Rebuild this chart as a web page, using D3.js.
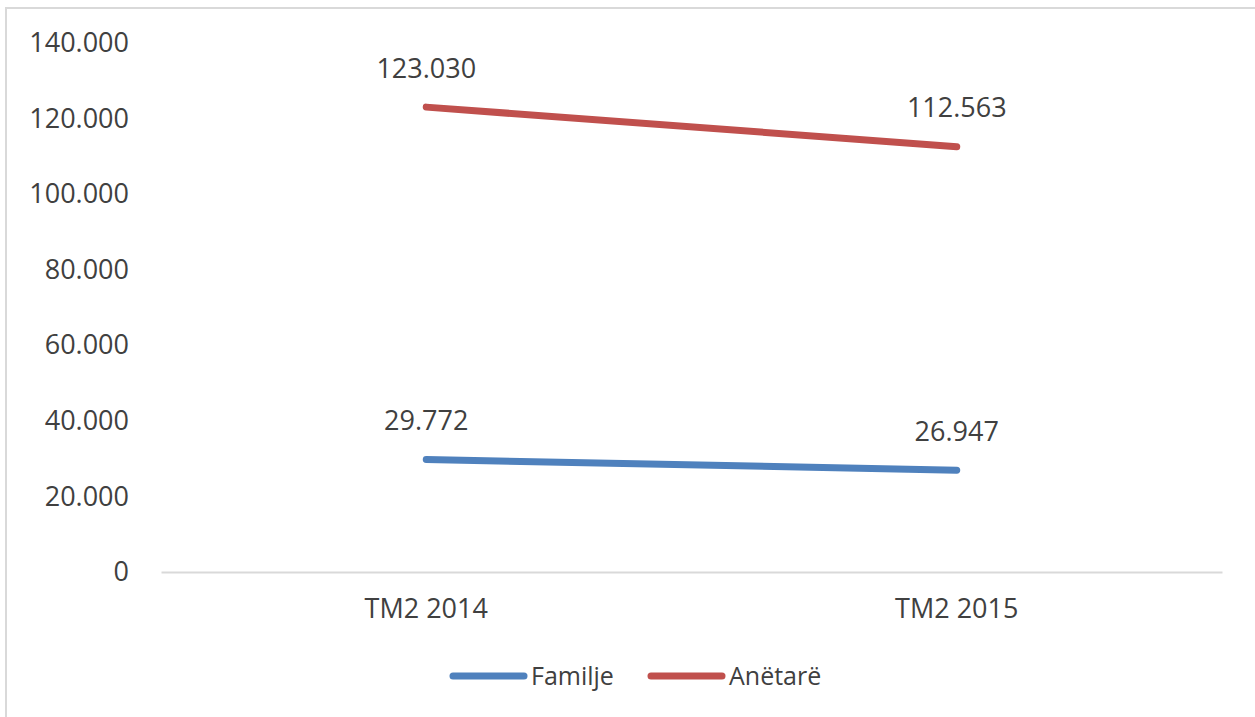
<!DOCTYPE html>
<html>
<head>
<meta charset="utf-8">
<script src="https://cdn.jsdelivr.net/npm/d3@7"></script>
<style>
  body { margin: 0; background: #fff; }
  text { font-family: "Open Sans", "Noto Sans", sans-serif; fill: #404040; }
</style>
</head>
<body>
<svg id="chart" width="1255" height="717"></svg>
<script>
// chart data
var categories = ["TM2 2014", "TM2 2015"];
var familje = [29772, 26947];
var anetare = [123030, 112563];
var seriesNames = ["Familje", "Anëtarë"];
var seriesColors = ["#4f81bd", "#c0504d"];
var yTicks = [0, 20000, 40000, 60000, 80000, 100000, 120000, 140000];

var svg = d3.select("#chart");

// frame around the chart
svg.append("rect")
    .attr("x", 6).attr("y", 8)
    .attr("width", 1260).attr("height", 720)
    .attr("fill", "none")
    .attr("stroke", "#d9d9d9")
    .attr("stroke-width", 2);

var locale = d3.formatLocale({ decimal: ",", thousands: ".", grouping: [3], currency: ["", ""] });
var fmt = locale.format(",d");

var x = d3.scaleBand().domain(categories).range([161, 1222]);
var y = d3.scaleLinear().domain([0, 140000]).range([572, 43]);

// y axis labels (no gridlines)
var yAxis = svg.append("g").attr("transform", "translate(129,0)")
    .call(d3.axisLeft(y).tickValues(yTicks).tickFormat(fmt).tickSize(0).tickPadding(0));
yAxis.select(".domain").remove();
yAxis.selectAll("text").style("font-size", "27px").attr("fill", "#404040")
    .style("font-family", "'Open Sans', sans-serif");

// x axis
var xAxis = svg.append("g").attr("transform", "translate(0,572)")
    .call(d3.axisBottom(x).tickSize(0).tickPadding(27));
xAxis.select(".domain").attr("stroke", "#d9d9d9").attr("stroke-width", 2);
xAxis.selectAll("text").style("font-size", "27px").attr("fill", "#404040")
    .style("font-family", "'Open Sans', sans-serif");

var line = d3.line()
    .x(function(d, i) { return x(categories[i]) + x.bandwidth() / 2; })
    .y(function(d) { return y(d); });

[familje, anetare].forEach(function(vals, s) {
    svg.append("path")
        .datum(vals)
        .attr("d", line)
        .attr("fill", "none")
        .attr("stroke", seriesColors[s])
        .attr("stroke-width", 7)
        .attr("stroke-linecap", "round");

    svg.selectAll(".lbl" + s)
        .data(vals)
        .enter().append("text")
        .attr("class", "lbl" + s)
        .attr("x", function(d, i) { return x(categories[i]) + x.bandwidth() / 2; })
        .attr("y", function(d) { return y(d) - 39; })
        .attr("text-anchor", "middle")
        .attr("dy", "0.35em")
        .style("font-size", "27px")
        .text(function(d) { return fmt(d); });
});

// legend
var legendX = [453, 651];
seriesNames.forEach(function(name, s) {
    var g = svg.append("g").attr("transform", "translate(" + legendX[s] + ",676)");
    g.append("line")
        .attr("x1", 0).attr("x2", 71)
        .attr("stroke", seriesColors[s])
        .attr("stroke-width", 7)
        .attr("stroke-linecap", "round");
    g.append("text")
        .attr("x", 78)
        .attr("dy", "0.35em")
        .style("font-size", "25px")
        .text(name);
});
</script>
</body>
</html>
